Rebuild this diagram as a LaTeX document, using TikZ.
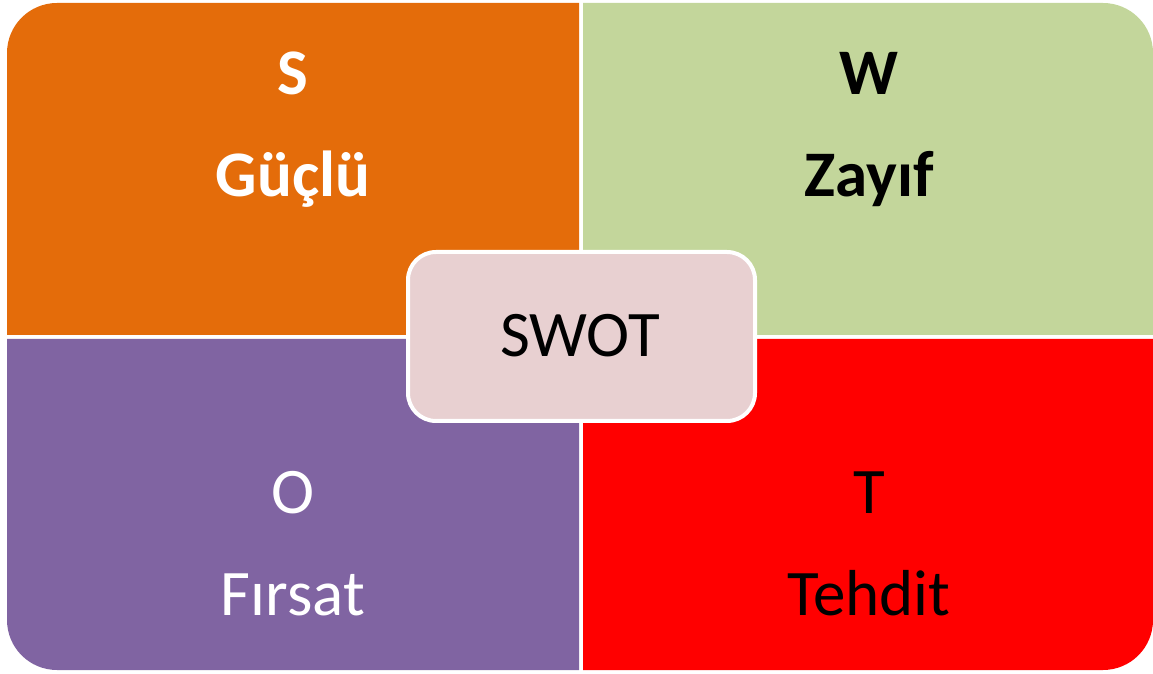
\documentclass[tikz,border=0pt]{standalone}
\usepackage{fontspec}
\setmainfont{Carlito}
\usetikzlibrary{positioning}
\definecolor{strength}{HTML}{E46C0A}
\definecolor{weakness}{HTML}{C3D69B}
\definecolor{chance}{HTML}{8064A2}
\definecolor{threat}{HTML}{FF0000}
\definecolor{core}{HTML}{E8D0D1}
\tikzset{
  every node/.style={inner sep=0pt},
  head/.style={anchor=base,font=\fontsize{37}{40}\selectfont},
  headbold/.style={head,font=\fontsize{37}{40}\selectfont\bfseries},
  corebox/.style={draw=white,line width=0.08cm,fill=core,rounded corners=0.56cm},
}

\begin{document}
\begin{tikzpicture}[x=0.02cm,y=0.02cm]
\useasboundingbox (0,0) rectangle (1153,673);
% quadrants, only the outer corner rounded
\fill[strength] (7,338) [rounded corners=1cm] -- (7,670) [sharp corners] -- (579,670) -- (579,338) -- cycle;
\fill[weakness] (583,670) [rounded corners=1cm] -- (1153,670) [sharp corners] -- (1153,338) -- (583,338) -- cycle;
\fill[chance] (579,3) [rounded corners=1cm] -- (7,3) [sharp corners] -- (7,334) -- (579,334) -- cycle;
\fill[threat] (1153,334) [rounded corners=1cm] -- (1153,3) [sharp corners] -- (583,3) -- (583,334) -- cycle;
% centre box
\draw[corebox] (408,252) rectangle (755,421);
\node[head] (core) at (580,316) {SWOT};
% labels
\node[headbold,text=white] (s) at (293,578) {S};
\node[headbold,text=white] (sname) at (293,476) {Güçlü};
\node[headbold,text=black] (w) at (869,578) {W};
\node[headbold,text=black] (wname) at (869,476) {Zayıf};
\node[head,text=white] (o) at (293,159) {O};
\node[head,text=white] (oname) at (293,57) {Fırsat};
\node[head,text=black] (t) at (869,159) {T};
\node[head,text=black] (tname) at (869,57) {Tehdit};
\end{tikzpicture}
\end{document}
